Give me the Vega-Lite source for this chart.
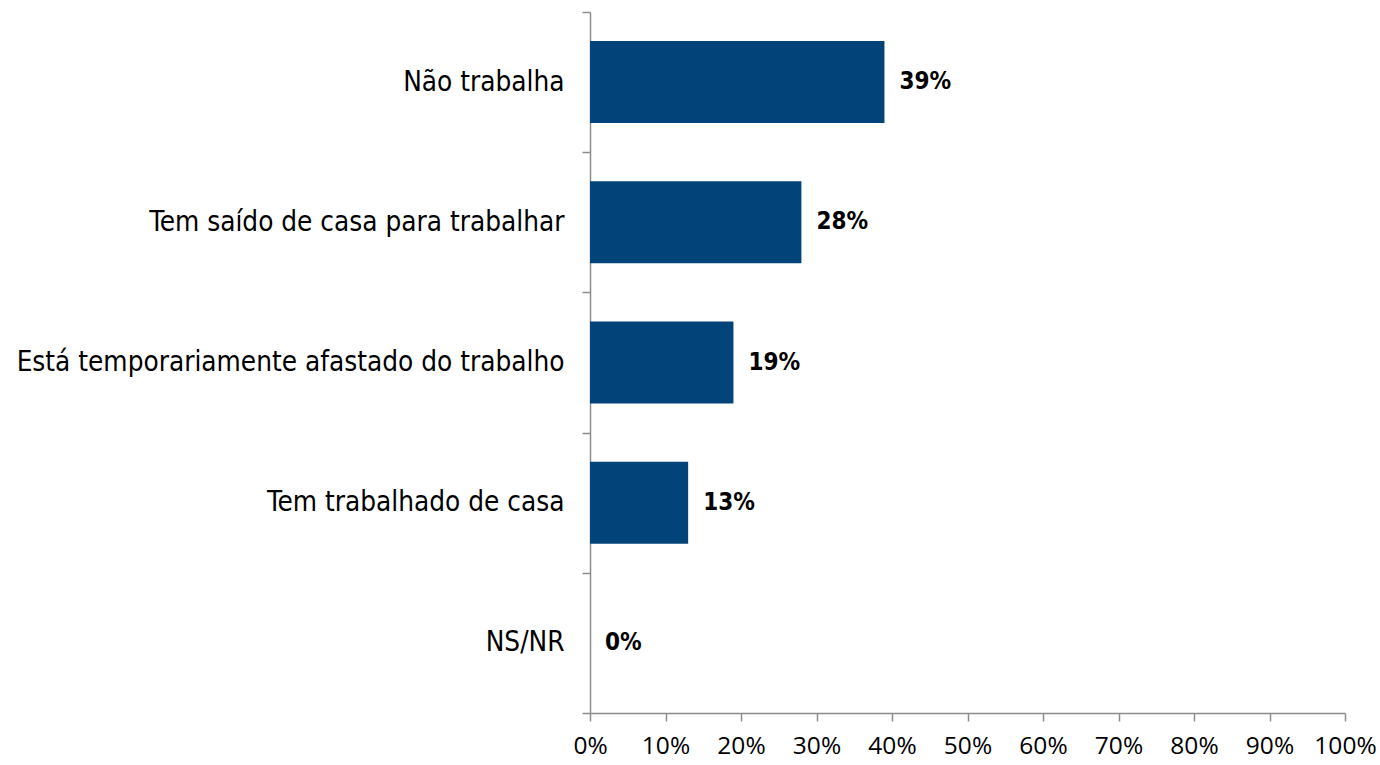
{
  "$schema": "https://vega.github.io/schema/vega-lite/v6.json",
  "width": 755,
  "height": 701,
  "autosize": "none",
  "padding": {"left": 590, "top": 12, "right": 35, "bottom": 52},
  "background": "white",
  "config": {"view": {"stroke": null}},
  "data": {
    "values": [
      {"categoria": "Não trabalha", "valor": 0.39},
      {"categoria": "Tem saído de casa para trabalhar", "valor": 0.28},
      {"categoria": "Está temporariamente afastado do trabalho", "valor": 0.19},
      {"categoria": "Tem trabalhado de casa", "valor": 0.13},
      {"categoria": "NS/NR", "valor": 0.0}
    ]
  },
  "encoding": {
    "y": {
      "field": "categoria",
      "type": "nominal",
      "sort": null,
      "scale": {"paddingInner": 0, "paddingOuter": 0},
      "axis": {
        "title": null,
        "tickBand": "extent",
        "domainColor": "#8c8c8c",
        "domainWidth": 1.5,
        "tickColor": "#8c8c8c",
        "tickWidth": 1.5,
        "tickSize": 8,
        "labelPadding": 18,
        "labelFont": "DejaVu Sans Condensed",
        "labelFontSize": 27.7,
        "labelColor": "#000000",
        "labelLimit": 700
      }
    },
    "x": {
      "field": "valor",
      "type": "quantitative",
      "scale": {"domain": [0, 1], "nice": false},
      "axis": {
        "title": null,
        "format": ".0%",
        "values": [0, 0.1, 0.2, 0.3, 0.4, 0.5, 0.6, 0.7, 0.8, 0.9, 1],
        "grid": false,
        "labelOverlap": false,
        "labelFlush": false,
        "domainColor": "#8c8c8c",
        "domainWidth": 1.5,
        "tickColor": "#8c8c8c",
        "tickWidth": 1.5,
        "tickSize": 8,
        "labelPadding": 13,
        "labelFont": "Open Sans",
        "labelFontSize": 24.5,
        "labelColor": "#000000"
      }
    }
  },
  "layer": [
    {"mark": {"type": "bar", "color": "#02437a", "height": {"band": 0.585}}},
    {
      "mark": {"type": "text", "align": "left", "baseline": "middle", "dx": 15, "font": "DejaVu Sans Condensed", "fontSize": 24, "fontWeight": "bold", "color": "#000000"},
      "encoding": {"text": {"field": "valor", "type": "quantitative", "format": ".0%"}}
    }
  ]
}
